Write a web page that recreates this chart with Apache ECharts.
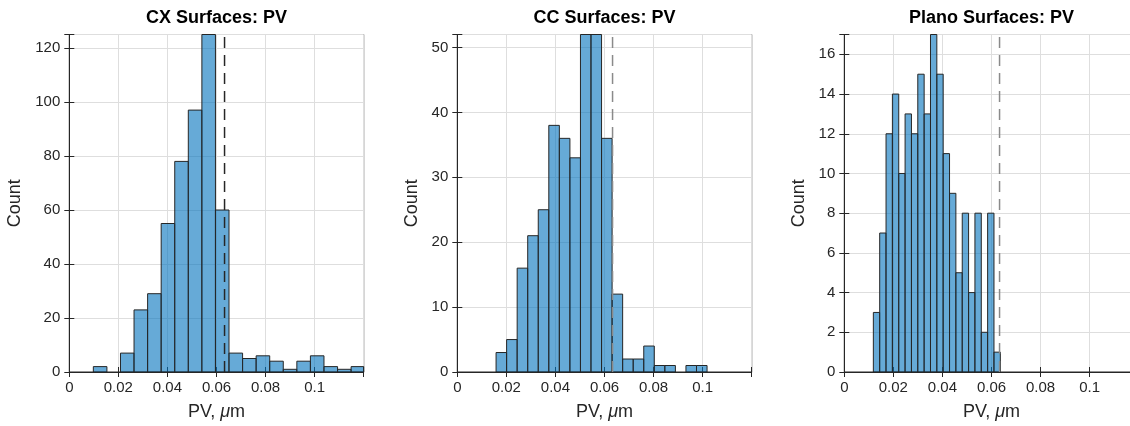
<!DOCTYPE html>
<html>
<head>
<meta charset="utf-8">
<script src="https://cdn.jsdelivr.net/npm/echarts@6/dist/echarts.min.js"></script>
<style>html,body{margin:0;padding:0;background:#fff;overflow:hidden}#c{width:1142px;height:426px}</style>
</head>
<body>
<div id="c"></div>
<script>
// ---- data ----
const TITLES = ['CX Surfaces: PV', 'CC Surfaces: PV', 'Plano Surfaces: PV'];
const CX_COUNTS = [2, 0, 7, 23, 29, 55, 78, 97, 125, 60, 7, 5, 6, 4, 1, 4, 6, 2, 1, 2];
const CX_EDGE0 = 0.0098, CX_BINW = 0.00553;
const CC_COUNTS = [3, 5, 16, 21, 25, 38, 36, 33, 52, 52, 36, 12, 2, 2, 4, 1, 1, 0, 1, 1];
const CC_EDGE0 = 0.0158, CC_BINW = 0.0043;
const PL_COUNTS = [3, 7, 12, 14, 10, 13, 12, 15, 13, 17, 15, 11, 9, 5, 8, 4, 8, 2, 8, 1];
const PL_EDGE0 = 0.01184, PL_BINW = 0.002588;
const LIMIT = 0.06328; // dashed reference line (lambda/10)
const X_TICKS = [0, 0.02, 0.04, 0.06, 0.08, 0.1];
const X_TICK_LABELS = ['0', '0.02', '0.04', '0.06', '0.08', '0.1'];
const X_MAX = 0.12;
const Y1_TICKS = [0, 20, 40, 60, 80, 100, 120];
const Y2_TICKS = [0, 10, 20, 30, 40, 50];
const Y3_TICKS = [0, 2, 4, 6, 8, 10, 12, 14, 16];
const Y_MAX = [125, 52, 17];
const Y_INTERVAL = [20, 10, 2];

// ---- build ----
const panels = [
  {counts: CX_COUNTS, e0: CX_EDGE0, w: CX_BINW, yt: Y1_TICKS, left: 69.3, lineColor: '#262626', nameGap: 45},
  {counts: CC_COUNTS, e0: CC_EDGE0, w: CC_BINW, yt: Y2_TICKS, left: 457.3, lineColor: '#8a8a8a', nameGap: 36},
  {counts: PL_COUNTS, e0: PL_EDGE0, w: PL_BINW, yt: Y3_TICKS, left: 844.3, lineColor: '#8a8a8a', nameGap: 36}
];
const FONT = "'Liberation Sans', Arial, Helvetica, sans-serif";
const TXT = '#262626';
const GW = 294.4, GTOP = 34.5, GH = 337.5;

function fmtFrom(ticks, labels) {
  return function (v) {
    const i = ticks.findIndex(t => Math.abs(t - v) < 1e-9);
    return i >= 0 ? (labels ? labels[i] : String(ticks[i])) : '';
  };
}

function renderItem(params, api) {
  const x0 = api.value(0), x1 = api.value(1), c = api.value(2);
  if (!c) return;
  const p0 = api.coord([x0, 0]);
  const p1 = api.coord([x1, c]);
  const rect = {x: p0[0], y: p1[1], width: p1[0] - p0[0], height: p0[1] - p1[1]};
  const cs = params.coordSys;
  const shape = echarts.graphic.clipRectByRect(rect, {x: cs.x, y: cs.y, width: cs.width, height: cs.height});
  return shape && {
    type: 'rect', shape: shape,
    style: {fill: 'rgba(0,114,189,0.6)', stroke: '#262626', lineWidth: 1}
  };
}

const option = {
  backgroundColor: '#fff',
  animation: false,
  title: [], grid: [], xAxis: [], yAxis: [], series: []
};

panels.forEach((p, k) => {
  option.title.push({
    text: TITLES[k], left: p.left + GW / 2, top: 9, textAlign: 'center', padding: 0,
    textStyle: {fontFamily: FONT, fontSize: 18, fontWeight: 'bold', color: '#000'}
  });
  option.grid.push({
    left: p.left, top: GTOP, width: GW, height: GH,
    show: true, borderColor: TXT, borderWidth: 1, backgroundColor: '#fff'
  });
  const tick = {show: true, inside: true, length: 5, lineStyle: {color: TXT, width: 1}};
  // bottom x axis
  option.xAxis.push({
    type: 'value', gridIndex: k, min: 0, max: X_MAX, interval: 0.02,
    name: 'PV, {i|\u03bc}m', nameLocation: 'middle', nameGap: 31,
    nameTextStyle: {fontFamily: FONT, fontSize: 18, color: TXT,
      rich: {i: {fontFamily: FONT, fontSize: 18, fontStyle: 'italic', color: TXT}}},
    axisLine: {show: true, onZero: false, lineStyle: {color: TXT, width: 1}},
    axisTick: tick,
    axisLabel: {fontFamily: FONT, fontSize: 15, color: TXT, margin: 8,
      formatter: fmtFrom(X_TICKS, X_TICK_LABELS), showMaxLabel: true, hideOverlap: false},
    splitLine: {show: true, lineStyle: {color: '#dedede', width: 1}}
  });
  // top x axis (ticks only)
  option.xAxis.push({
    type: 'value', gridIndex: k, min: 0, max: X_MAX, interval: 0.02, position: 'top',
    axisLine: {show: false}, axisTick: tick, axisLabel: {show: false}, splitLine: {show: false}
  });
  // left y axis
  option.yAxis.push({
    type: 'value', gridIndex: k, min: 0, max: Y_MAX[k], interval: Y_INTERVAL[k],
    name: 'Count', nameLocation: 'middle', nameGap: p.nameGap, nameRotate: 90,
    nameTextStyle: {fontFamily: FONT, fontSize: 18, color: TXT},
    axisLine: {show: true, onZero: false, lineStyle: {color: TXT, width: 1}},
    axisTick: tick,
    axisLabel: {fontFamily: FONT, fontSize: 15, color: TXT, margin: 9,
      formatter: fmtFrom(p.yt), hideOverlap: false},
    splitLine: {show: true, lineStyle: {color: '#dedede', width: 1}}
  });
  // right y axis (ticks only)
  option.yAxis.push({
    type: 'value', gridIndex: k, min: 0, max: Y_MAX[k], interval: Y_INTERVAL[k], position: 'right',
    axisLine: {show: false}, axisTick: tick, axisLabel: {show: false}, splitLine: {show: false}
  });
  const data = p.counts.map((c, i) => [p.e0 + i * p.w, p.e0 + (i + 1) * p.w, c]);
  option.series.push({
    type: 'custom', xAxisIndex: 2 * k, yAxisIndex: 2 * k,
    renderItem: renderItem, data: data, encode: {x: [0, 1], y: 2}, z: 2
  });
  option.series.push({
    type: 'line', xAxisIndex: 2 * k, yAxisIndex: 2 * k, symbol: 'none', z: 3,
    data: [[LIMIT, 0], [LIMIT, Y_MAX[k]]],
    lineStyle: {color: p.lineColor, width: 1.5, type: [11, 7]}
  });
});

const chart = echarts.init(document.getElementById('c'), null, {renderer: 'canvas'});
chart.setOption(option);
</script>
</body>
</html>
